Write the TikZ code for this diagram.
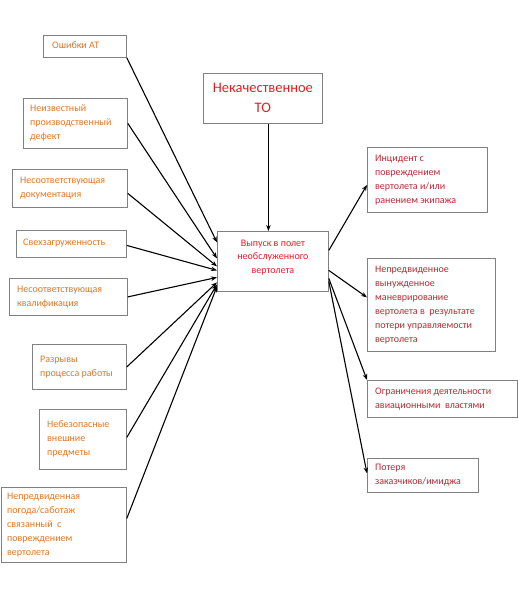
\documentclass[tikz,border=0pt]{standalone}
\usepackage{fontspec}
\setmainfont{Carlito}
\usetikzlibrary{arrows.meta}
\definecolor{leftc}{RGB}{226,118,38}
\definecolor{rightc}{RGB}{190,40,50}
\definecolor{topc}{RGB}{228,30,40}
\definecolor{boxc}{RGB}{128,128,128}
\tikzset{
  box/.style={draw=boxc,line width=0.8pt,rectangle,anchor=north west,inner sep=0pt},
  txt/.style={anchor=west,inner sep=0pt,align=left,font=\fontsize{10}{14}\selectfont},
  ltxt/.style={txt,text=leftc},
  rtxt/.style={txt,text=rightc},
  ctxt/.style={anchor=center,inner sep=0pt,align=center,text=topc},
  conn/.style={draw=black,line width=1.1pt,-{Stealth[length=6pt,width=4.5pt]}}
}
\begin{document}
\begin{tikzpicture}[x=1pt,y=-1pt]
\useasboundingbox[fill=white] (0,0) rectangle (518,600);
% left boxes
\node[box,minimum width=83pt,minimum height=22pt] (e1) at (43,35) {};
\node[ltxt] (e1t) at ([xshift=9pt,yshift=1pt]e1.west) {Ошибки АТ};
\node[box,minimum width=104pt,minimum height=50pt] (e2) at (23,98) {};
\node[ltxt] (e2t) at ([xshift=7pt]e2.west) {Неизвестный\\производственный\\дефект};
\node[box,minimum width=115pt,minimum height=38pt] (e3) at (12,169) {};
\node[ltxt] (e3t) at ([xshift=8pt]e3.west) {Несоответствующая\\документация};
\node[box,minimum width=110pt,minimum height=27pt] (e4) at (16,230) {};
\node[ltxt] (e4t) at ([xshift=7pt,yshift=1pt]e4.west) {Свехзагруженность};
\node[box,minimum width=118pt,minimum height=37pt] (e5) at (9,278) {};
\node[ltxt] (e5t) at ([xshift=8pt]e5.west) {Несоответствующая\\квалификация};
\node[box,minimum width=94pt,minimum height=45pt] (e6) at (32,344) {};
\node[ltxt] (e6t) at ([xshift=8pt]e6.west) {Разрывы\\процесса работы};
\node[box,minimum width=87pt,minimum height=60pt] (e7) at (39,409) {};
\node[ltxt] (e7t) at ([xshift=8pt]e7.west) {Небезопасные\\внешние\\предметы};
\node[box,minimum width=125pt,minimum height=75pt] (e8) at (1,487) {};
\node[ltxt] (e8t) at ([xshift=6pt]e8.west) {Непредвиденная\\погода/саботаж\\связанный\ \ с\\повреждением\\вертолета};
% center
\node[box,minimum width=119pt,minimum height=50pt] (t) at (203,73) {};
\node[ctxt,font=\fontsize{14.5}{20}\selectfont] (tt) at ([yshift=1pt]t.center) {Некачественное\\ТО};
\node[box,minimum width=111pt,minimum height=60pt] (c) at (217,231) {};
\node[ctxt,font=\fontsize{10}{13.5}\selectfont] (ct) at ([yshift=4pt]c.center) {Выпуск в полет\\необслуженного\\вертолета};
% right boxes
\node[box,minimum width=120pt,minimum height=65pt] (r1) at (367,147) {};
\node[rtxt] (r1t) at ([xshift=8pt]r1.west) {Инцидент с\\повреждением\\вертолета и/или\\ранением экипажа};
\node[box,minimum width=128pt,minimum height=93pt] (r2) at (367,258) {};
\node[rtxt] (r2t) at ([xshift=8pt]r2.west) {Непредвиденное\\вынужденное\\маневрирование\\вертолета в\ \ результате\\потери управляемости\\вертолета};
\node[box,minimum width=150pt,minimum height=37pt] (r3) at (367,380) {};
\node[rtxt] (r3t) at ([xshift=8pt]r3.west) {Ограничения деятельности\\авиационными\ \ властями};
\node[box,minimum width=111pt,minimum height=34pt] (r4) at (367,458) {};
\node[rtxt] (r4t) at ([xshift=8pt]r4.west) {Потеря\\заказчиков/имиджа};
% connectors
\draw[conn] ([xshift=5.5pt]t.south) -- ([xshift=-4.5pt]c.north);
\draw[conn] (e1.south east) -- ([yshift=19pt]c.west);
\draw[conn] (e2.east) -- ([yshift=3pt]c.west);
\draw[conn] ([yshift=-5pt]e3.east) -- ([yshift=-5pt]c.west);
\draw[conn] ([yshift=-1.5pt]e4.east) -- ([yshift=-9pt]c.west);
\draw[conn] (e5.east) -- ([yshift=-16pt]c.west);
\draw[conn] (e6.east) -- ([yshift=-21pt]c.west);
\draw[conn] ([yshift=2pt]e7.east) -- ([yshift=-23pt]c.west);
\draw[conn] ([yshift=6.5pt]e8.east) -- ([yshift=-25pt]c.west);
\draw[conn] ([yshift=11pt]c.east) -- ([yshift=-5pt]r1.west);
\draw[conn] ([yshift=-9pt]c.east) -- ([yshift=7.5pt]r2.west);
\draw[conn] ([yshift=-17pt]c.east) -- (r3.north west);
\draw[conn] ([yshift=-20pt]c.east) -- ([yshift=2pt]r4.west);
\end{tikzpicture}
\end{document}
